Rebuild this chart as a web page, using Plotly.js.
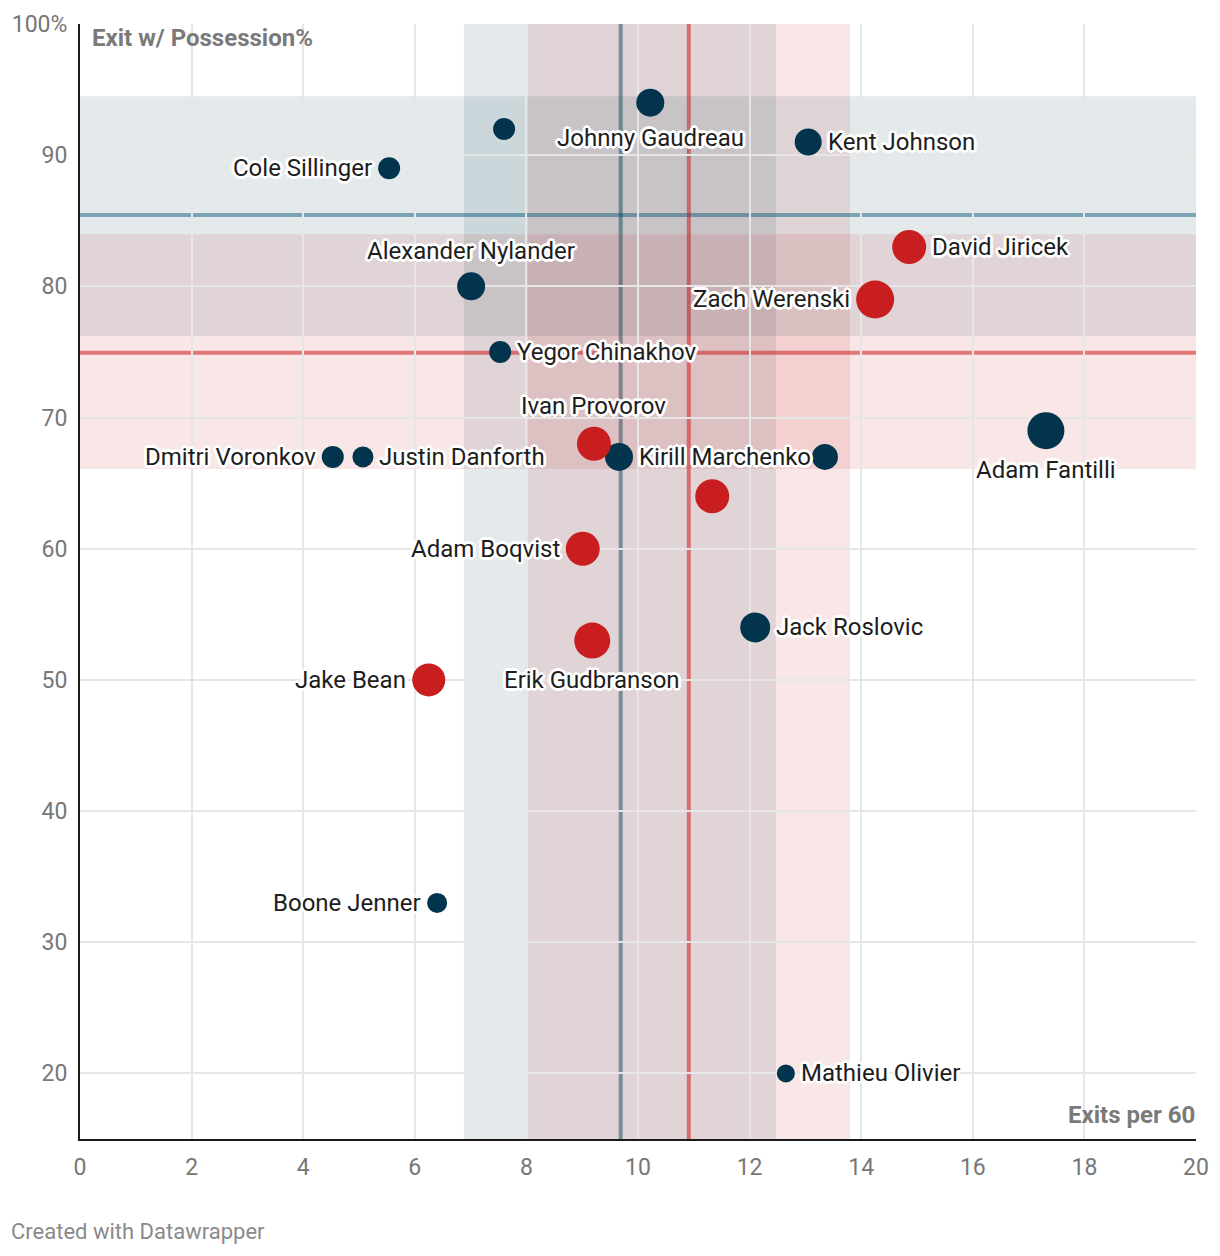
<!DOCTYPE html>
<html>
<head>
<meta charset="utf-8">
<script src="https://cdn.plot.ly/plotly-3.0.1.min.js"></script>
<style>
  html, body { margin: 0; padding: 0; background: #fff; }
  #chart { width: 1220px; height: 1256px; }
</style>
</head>
<body>
<div id="chart"></div>
<script>
// ---- data ----
const players = ["Johnny Gaudreau", "", "Kent Johnson", "Cole Sillinger", "Alexander Nylander",
  "Yegor Chinakhov", "Kirill Marchenko", "", "Dmitri Voronkov", "Justin Danforth",
  "Adam Fantilli", "Jack Roslovic", "Boone Jenner", "Mathieu Olivier",
  "David Jiricek", "Zach Werenski", "Ivan Provorov", "", "Adam Boqvist",
  "Erik Gudbranson", "Jake Bean"];
const group = ["F","F","F","F","F","F","F","F","F","F","F","F","F","F",
  "D","D","D","D","D","D","D"];
const exitsPer60 = [10.22, 7.60, 13.05, 5.54, 7.01, 7.53, 9.66, 13.35, 4.53, 5.07,
  17.31, 12.10, 6.40, 12.65, 14.86, 14.25, 9.21, 11.33, 9.01, 9.18, 6.25];
const exitPossPct = [94, 92, 91, 89, 80, 75, 67, 67, 67, 67,
  69, 54, 33, 20, 83, 79, 68, 64, 60, 53, 50];
const sizeVal = [28, 22, 27, 22, 28, 22, 28, 26, 22, 21,
  37, 30, 20, 18, 34, 38, 34, 34, 34, 36, 33];
const labelSide = ["below", "", "right", "left", "above", "right", "right", "", "left", "right",
  "below", "right", "left", "right", "right", "left", "above", "", "left", "below", "left"];

// group averages and spread bands
const fwdAvgX = 9.69, fwdBandX = [6.88, 12.47];
const fwdAvgY = 85.43, fwdBandY = [76.21, 94.49];
const defAvgX = 10.91, defBandX = [8.03, 13.80];
const defAvgY = 74.93, defBandY = [66.08, 83.98];

const xTicks = [0, 2, 4, 6, 8, 10, 12, 14, 16, 18, 20];
const yTicks = [20, 30, 40, 50, 60, 70, 80, 90, 100];
const yTickText = ["20", "30", "40", "50", "60", "70", "80", "90", "100%"];

// ---- styles ----
const NAVY = "#03344d", RED = "#c91e20";
const halo = "-2px -2px 0 #fff, 2px -2px 0 #fff, -2px 2px 0 #fff, 2px 2px 0 #fff, 0 -3px 0 #fff, 0 3px 0 #fff, -3px 0 0 #fff, 3px 0 0 #fff";
const FONT = "Roboto, 'Noto Sans', sans-serif";

const traces = ["F", "D"].map(g => {
  const idx = group.map((v, i) => v === g ? i : -1).filter(i => i >= 0);
  return {
    type: "scatter", mode: "markers",
    x: idx.map(i => exitsPer60[i]),
    y: idx.map(i => exitPossPct[i]),
    marker: { size: idx.map(i => sizeVal[i]), color: g === "F" ? NAVY : RED, line: { width: 0 }, opacity: 1 },
    hoverinfo: "skip", showlegend: false
  };
});

const annotations = [];
players.forEach((name, i) => {
  if (!name) return;
  const r = sizeVal[i] / 2;
  const a = {
    x: exitsPer60[i], y: exitPossPct[i], xref: "x", yref: "y", text: name, showarrow: false,
    font: { family: FONT, size: 24, color: "#1d1d1d", shadow: halo },
    xanchor: "center", yanchor: "middle", borderpad: 0
  };
  const side = labelSide[i];
  if (side === "right") { a.xanchor = "left"; a.xshift = r + 5; }
  else if (side === "left") { a.xanchor = "right"; a.xshift = -(r + 5); }
  else if (side === "above") { a.yshift = r + 21; }
  else if (side === "below") { a.yshift = -(r + 21); }
  annotations.push(a);
});

annotations.push({
  xref: "paper", yref: "paper", x: 0, y: 1, xanchor: "left", yanchor: "middle",
  xshift: 10, yshift: -14, showarrow: false, text: "<b>Exit w/ Possession%</b>",
  font: { family: FONT, size: 24, color: "#7a7a7a" }
});
annotations.push({
  xref: "paper", yref: "paper", x: 1, y: 0, xanchor: "right", yanchor: "middle",
  xshift: 1, yshift: 24, showarrow: false, text: "<b>Exits per 60</b>",
  font: { family: FONT, size: 24, color: "#7a7a7a" }
});
annotations.push({
  xref: "paper", yref: "paper", x: 0, y: 0, xanchor: "left", yanchor: "middle",
  xshift: -71, yshift: -92, showarrow: false, text: "Created with Datawrapper",
  font: { family: FONT, size: 22, color: "#8a8a8a" }
});

const bandBlue = "rgba(3,52,77,0.105)", bandRed = "rgba(201,29,31,0.105)";
const shapes = [
  { type: "rect", layer: "below", xref: "x", yref: "y", x0: 0, x1: 20, y0: fwdBandY[0], y1: fwdBandY[1], fillcolor: bandBlue, line: { width: 0 } },
  { type: "rect", layer: "below", xref: "x", yref: "y", x0: 0, x1: 20, y0: defBandY[0], y1: defBandY[1], fillcolor: bandRed, line: { width: 0 } },
  { type: "rect", layer: "below", xref: "x", yref: "paper", x0: fwdBandX[0], x1: fwdBandX[1], y0: 0, y1: 1, fillcolor: bandBlue, line: { width: 0 } },
  { type: "rect", layer: "below", xref: "x", yref: "paper", x0: defBandX[0], x1: defBandX[1], y0: 0, y1: 1, fillcolor: bandRed, line: { width: 0 } },
  { type: "line", layer: "between", xref: "paper", yref: "y", x0: 0, x1: 1, y0: fwdAvgY, y1: fwdAvgY, line: { color: "rgba(20,100,130,0.5)", width: 4 } },
  { type: "line", layer: "between", xref: "paper", yref: "y", x0: 0, x1: 1, y0: defAvgY, y1: defAvgY, line: { color: "rgba(205,30,30,0.55)", width: 4 } },
  { type: "line", layer: "between", xref: "x", yref: "paper", x0: fwdAvgX, x1: fwdAvgX, y0: 0, y1: 1, line: { color: "rgba(20,70,95,0.5)", width: 4 } },
  { type: "line", layer: "between", xref: "x", yref: "paper", x0: defAvgX, x1: defAvgX, y0: 0, y1: 1, line: { color: "rgba(205,30,30,0.55)", width: 4 } }
];

const layout = {
  width: 1220, height: 1256,
  margin: { l: 80, r: 24, t: 24, b: 117 },
  paper_bgcolor: "#fff", plot_bgcolor: "#fff",
  font: { family: FONT, color: "#777" },
  showlegend: false,
  xaxis: {
    range: [0, 20], tickvals: xTicks, ticktext: xTicks.map(String),
    showgrid: true, gridcolor: "#e6e6e6", gridwidth: 2, zeroline: false,
    showline: true, linecolor: "#1a1a1a", linewidth: 2, ticks: "",
    tickfont: { family: FONT, size: 23, color: "#777" }, ticklabelstandoff: 6, fixedrange: true
  },
  yaxis: {
    range: [15, 100], tickvals: yTicks, ticktext: yTickText,
    showgrid: true, gridcolor: "#e6e6e6", gridwidth: 2, zeroline: false,
    showline: true, linecolor: "#1a1a1a", linewidth: 2, ticks: "",
    tickfont: { family: FONT, size: 23, color: "#777" }, ticklabelstandoff: 6, fixedrange: true
  },
  shapes: shapes,
  annotations: annotations,
  hovermode: false
};

Plotly.newPlot("chart", traces, layout, { displayModeBar: false, staticPlot: true });
</script>
</body>
</html>
